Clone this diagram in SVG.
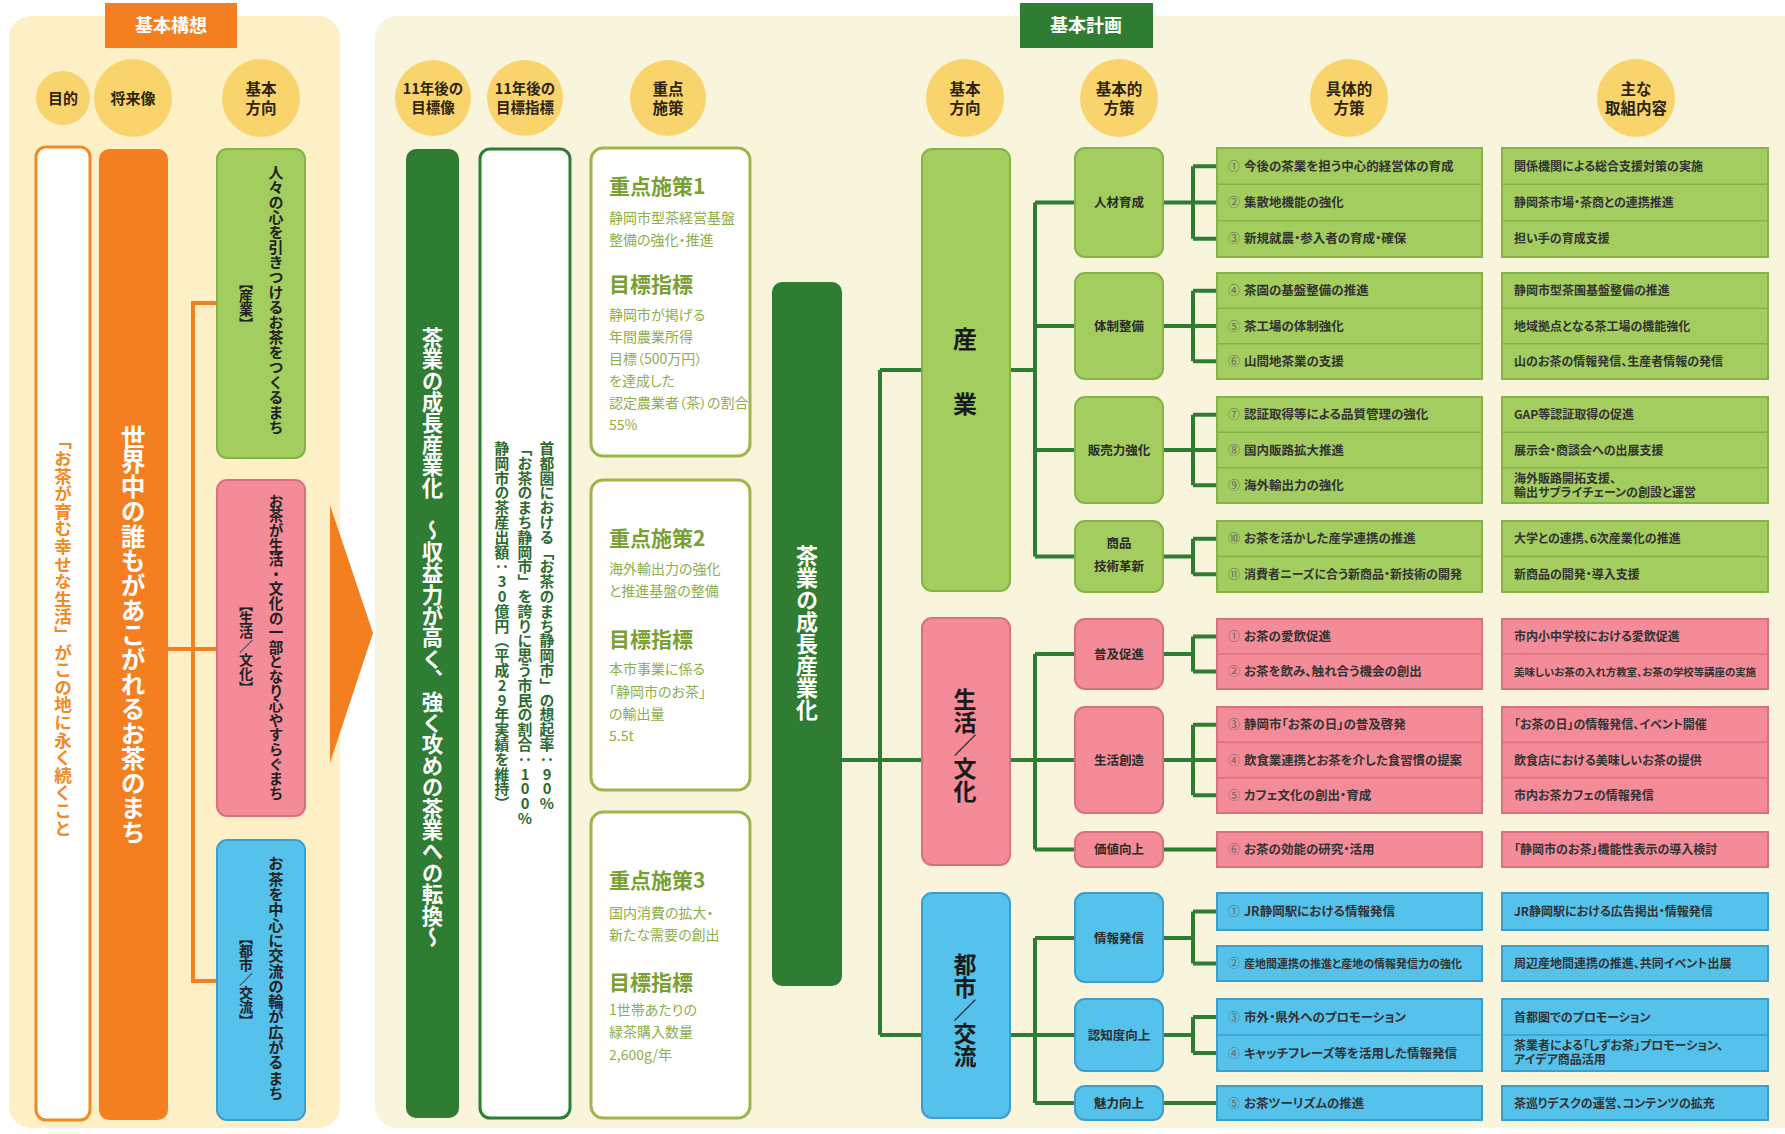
<svg xmlns="http://www.w3.org/2000/svg" width="1785" height="1134" viewBox="0 0 1785 1134">
<style>
text{font-family:"Noto Sans CJK JP","Noto Sans CJK SC",sans-serif;}
.v{writing-mode:vertical-rl;text-orientation:upright;}
.circ{fill:#f9d46c;}
.ct{font-size:15.5px;font-weight:700;fill:#2d2410;text-anchor:middle;}
.tab{font-size:18px;font-weight:700;fill:#ffffff;text-anchor:middle;}
.g{fill:#a3cd5f;stroke:#86b24a;stroke-width:2;}
.p{fill:#f48b98;stroke:#d8707f;stroke-width:2;}
.b{fill:#55c2ec;stroke:#3c9ecb;stroke-width:2;}
.sep-g{stroke:#86b24a;stroke-width:1.5;}
.sep-p{stroke:#d8707f;stroke-width:1.5;}
.sep-b{stroke:#3c9ecb;stroke-width:1.5;}
.lt{font-size:15px;font-weight:700;fill:#222;}
.lb{font-size:14px;font-weight:700;fill:#222;font-feature-settings:"vpal";}
.kt{font-size:21px;font-weight:700;fill:#79a033;}
.kb{font-size:14px;fill:#8fae48;font-feature-settings:"palt";}
.st{font-size:12.5px;font-weight:700;fill:#2b2b2b;text-anchor:middle;}
.it{font-size:12.5px;font-weight:700;fill:#333;font-feature-settings:"palt";}
.it2{font-size:12px;font-weight:700;fill:#333;font-feature-settings:"palt";}
.num{font-size:12px;fill:#666;}
.conn{fill:none;stroke:#2e7d32;stroke-width:4;}
</style>
<rect x="0" y="0" width="1785" height="1134" fill="#ffffff"/>

<!-- Panels -->
<rect x="9" y="16" width="331" height="1112" rx="22" fill="#fdf0c6"/>
<rect x="375" y="16" width="1440" height="1112" rx="22" fill="#f8f5dc"/>
<polygon points="330,505 373,633 330,763" fill="#f47f20"/>

<!-- Tabs -->
<g id="tab-kihonkoso">
<rect x="105" y="3" width="132" height="45" fill="#f47f20"/>
<text class="tab" x="171" y="32">基本構想</text>
</g>
<g id="tab-kihonkeikaku">
<rect x="1020" y="3" width="133" height="45" fill="#2e7d32"/>
<text class="tab" x="1086" y="32">基本計画</text>
</g>

<!-- Header circles -->
<g id="h-mokuteki"><circle class="circ" cx="63" cy="98" r="27"/><text class="ct" x="63" y="104" style="font-size:15px">目的</text></g>
<g id="h-shoraizo"><circle class="circ" cx="133" cy="98" r="39"/><text class="ct" x="133" y="104" style="font-size:15px">将来像</text></g>
<g id="h-hoko1"><circle class="circ" cx="261" cy="98" r="39"/><text class="ct" x="261" y="95">基本</text><text class="ct" x="261" y="114">方向</text></g>
<g id="h-mokuhyozo"><circle class="circ" cx="433" cy="98" r="38"/><text class="ct" x="433" y="94" style="font-size:14.5px">11年後の</text><text class="ct" x="433" y="113" style="font-size:14.5px">目標像</text></g>
<g id="h-mokuhyoshihyo"><circle class="circ" cx="525" cy="98" r="38"/><text class="ct" x="525" y="94" style="font-size:14.5px">11年後の</text><text class="ct" x="525" y="113" style="font-size:14.5px">目標指標</text></g>
<g id="h-juten"><circle class="circ" cx="668" cy="98" r="38"/><text class="ct" x="668" y="95">重点</text><text class="ct" x="668" y="114">施策</text></g>
<g id="h-hoko2"><circle class="circ" cx="965" cy="98" r="39"/><text class="ct" x="965" y="95">基本</text><text class="ct" x="965" y="114">方向</text></g>
<g id="h-hosaku"><circle class="circ" cx="1119" cy="98" r="39"/><text class="ct" x="1119" y="95">基本的</text><text class="ct" x="1119" y="114">方策</text></g>
<g id="h-gutai"><circle class="circ" cx="1349" cy="98" r="39"/><text class="ct" x="1349" y="95">具体的</text><text class="ct" x="1349" y="114">方策</text></g>
<g id="h-torikumi"><circle class="circ" cx="1636" cy="98" r="39"/><text class="ct" x="1636" y="95">主な</text><text class="ct" x="1636" y="114">取組内容</text></g>

<!-- Connectors -->
<g id="connectors">
<path d="M217 303H193V981H217M168 649H217" fill="none" stroke="#f47f20" stroke-width="4"/>
<path class="conn" d="M842 760H922M880 370V1035M880 370H922M880 1035H922"/>
<path class="conn" d="M1010 370H1035M1035 202.5V556.5M1035 202.5H1075M1035 326H1075M1035 450H1075M1035 556.5H1075"/>
<path class="conn" d="M1010 760H1075M1035 654V849.5M1035 654H1075M1035 849.5H1075"/>
<path class="conn" d="M1010 1035H1075M1035 938V1103M1035 938H1075M1035 1103H1075"/>
<path class="conn" d="M1163 202.5H1217M1193 166.2V238.8M1193 166.2H1217M1193 238.8H1217"/>
<path class="conn" d="M1163 326H1217M1193 290.7V361.3M1193 290.7H1217M1193 361.3H1217"/>
<path class="conn" d="M1163 450H1217M1193 414.7V485.3M1193 414.7H1217M1193 485.3H1217"/>
<path class="conn" d="M1163 556.5H1193M1193 538.8V574.2M1193 538.8H1217M1193 574.2H1217"/>
<path class="conn" d="M1163 654H1193M1193 636.5V671.5M1193 636.5H1217M1193 671.5H1217"/>
<path class="conn" d="M1163 760H1217M1193 724.7V795.3M1193 724.7H1217M1193 795.3H1217"/>
<path class="conn" d="M1163 849.5H1217"/>
<path class="conn" d="M1163 938H1193M1193 911.5V963.5M1193 911.5H1217M1193 963.5H1217"/>
<path class="conn" d="M1163 1035H1193M1193 1017V1053M1193 1017H1217M1193 1053H1217"/>
<path class="conn" d="M1163 1103H1217"/>
</g>

<!-- Left column -->
<g id="n-purpose">
<rect x="36" y="147" width="54" height="973" rx="10" fill="#ffffff" stroke="#f08a24" stroke-width="3"/>
<text class="v" x="63" y="432" style="font-size:17.6px;font-weight:700;fill:#f08a24">「お茶が育む幸せな生活」がこの地に永く続くこと</text>
</g>
<g id="n-vision">
<rect x="99" y="149" width="69" height="971" rx="10" fill="#f47f20"/>
<text class="v" x="133" y="425" style="font-size:24.7px;font-weight:700;fill:#ffffff">世界中の誰もがあこがれるお茶のまち</text>
</g>
<g id="n-dir-sangyo">
<rect class="g" x="217" y="149" width="88" height="309" rx="10"/>
<text class="v lt" x="276" y="165">人々の心を引きつけるお茶をつくるまち</text>
<text class="v lb" x="246" y="282">【産業】</text>
</g>
<g id="n-dir-seikatsu">
<rect class="p" x="217" y="480" width="88" height="336" rx="10"/>
<text class="v lt" x="276" y="494" style="font-size:14.6px">お茶が生活・文化の一部となり心やすらぐまち</text>
<text class="v lb" x="246" y="604">【生活／文化】</text>
</g>
<g id="n-dir-toshi">
<rect class="b" x="217" y="840" width="88" height="280" rx="10"/>
<text class="v lt" x="276" y="856" style="font-size:15.3px">お茶を中心に交流の輪が広がるまち</text>
<text class="v lb" x="246" y="937">【都市／交流】</text>
</g>

<!-- Goal image -->
<g id="n-goal-image">
<rect x="406" y="149" width="53" height="969" rx="10" fill="#2e7d32"/>
<text class="v" x="432.5" y="327" style="font-size:21.4px;font-weight:700;fill:#ffffff">茶業の成長産業化　～収益力が高く、強く攻めの茶業への転換～</text>
</g>
<g id="n-goal-index">
<rect x="480" y="149" width="90" height="969" rx="10" fill="#ffffff" stroke="#2e7d32" stroke-width="3"/>
<text class="v" x="547" y="441" style="font-size:14.8px;font-weight:700;fill:#2e6b30">首都圏における「お茶のまち静岡市」の想起率：90%</text>
<text class="v" x="525" y="441" style="font-size:14.8px;font-weight:700;fill:#2e6b30">「お茶のまち静岡市」を誇りに思う市民の割合：100%</text>
<text class="v" x="502" y="441" style="font-size:14.8px;font-weight:700;fill:#2e6b30">静岡市の茶産出額：30億円（平成29年実績を維持）</text>
</g>

<!-- Key measures -->
<g id="n-juten1">
<rect x="591" y="148" width="159" height="308" rx="12" fill="#ffffff" stroke="#9cb64a" stroke-width="3"/>
<text class="kt" x="609" y="194">重点施策1</text>
<text class="kb" x="609" y="223">静岡市型茶経営基盤</text>
<text class="kb" x="609" y="245">整備の強化・推進</text>
<text class="kt" x="609" y="292">目標指標</text>
<text class="kb" x="609" y="320">静岡市が掲げる</text>
<text class="kb" x="609" y="342">年間農業所得</text>
<text class="kb" x="609" y="364">目標（500万円）</text>
<text class="kb" x="609" y="386">を達成した</text>
<text class="kb" x="609" y="408">認定農業者（茶）の割合</text>
<text class="kb" x="609" y="430">55%</text>
</g>
<g id="n-juten2">
<rect x="591" y="480" width="159" height="310" rx="12" fill="#ffffff" stroke="#9cb64a" stroke-width="3"/>
<text class="kt" x="609" y="546">重点施策2</text>
<text class="kb" x="609" y="574">海外輸出力の強化</text>
<text class="kb" x="609" y="596">と推進基盤の整備</text>
<text class="kt" x="609" y="647">目標指標</text>
<text class="kb" x="609" y="674">本市事業に係る</text>
<text class="kb" x="609" y="697">「静岡市のお茶」</text>
<text class="kb" x="609" y="719">の輸出量</text>
<text class="kb" x="609" y="741">5.5t</text>
</g>
<g id="n-juten3">
<rect x="591" y="812" width="159" height="306" rx="12" fill="#ffffff" stroke="#9cb64a" stroke-width="3"/>
<text class="kt" x="609" y="888">重点施策3</text>
<text class="kb" x="609" y="918">国内消費の拡大・</text>
<text class="kb" x="609" y="940">新たな需要の創出</text>
<text class="kt" x="609" y="990">目標指標</text>
<text class="kb" x="609" y="1015">1世帯あたりの</text>
<text class="kb" x="609" y="1037">緑茶購入数量</text>
<text class="kb" x="609" y="1060">2,600g/年</text>
</g>

<g id="n-growth">
<rect x="772" y="282" width="70" height="704" rx="10" fill="#2e7d32"/>
<text class="v" x="807" y="545" style="font-size:22px;font-weight:700;fill:#ffffff">茶業の成長産業化</text>
</g>

<!-- Basic directions -->
<g id="n-sangyo">
<rect class="g" x="922" y="149" width="88" height="442" rx="10"/>
<text x="965" y="348" style="font-size:24px;font-weight:700;fill:#1a1a1a;text-anchor:middle">産</text>
<text x="965" y="413" style="font-size:24px;font-weight:700;fill:#1a1a1a;text-anchor:middle">業</text>
</g>
<g id="n-seikatsu">
<rect class="p" x="922" y="618" width="88" height="247" rx="10"/>
<text class="v" x="965" y="688" style="font-size:23px;font-weight:700;fill:#1a1a1a">生活／文化</text>
</g>
<g id="n-toshi">
<rect class="b" x="922" y="893" width="88" height="225" rx="10"/>
<text class="v" x="965" y="953" style="font-size:23px;font-weight:700;fill:#1a1a1a">都市／交流</text>
</g>

<!-- Basic measures -->
<g id="s-jinzai"><rect class="g" x="1075" y="148" width="88" height="109" rx="10"/><text class="st" x="1119" y="207">人材育成</text></g>
<g id="s-taisei"><rect class="g" x="1075" y="273" width="88" height="106" rx="10"/><text class="st" x="1119" y="330.5">体制整備</text></g>
<g id="s-hanbai"><rect class="g" x="1075" y="397" width="88" height="106" rx="10"/><text class="st" x="1119" y="454.5">販売力強化</text></g>
<g id="s-shohin"><rect class="g" x="1075" y="521" width="88" height="71" rx="10"/><text class="st" x="1119" y="547.5">商品</text><text class="st" x="1119" y="570.5">技術革新</text></g>
<g id="s-fukyu"><rect class="p" x="1075" y="619" width="88" height="70" rx="10"/><text class="st" x="1119" y="658.5">普及促進</text></g>
<g id="s-sozo"><rect class="p" x="1075" y="707" width="88" height="106" rx="10"/><text class="st" x="1119" y="764.5">生活創造</text></g>
<g id="s-kachi"><rect class="p" x="1075" y="832" width="88" height="35" rx="10"/><text class="st" x="1119" y="854">価値向上</text></g>
<g id="s-joho"><rect class="b" x="1075" y="893" width="88" height="89" rx="10"/><text class="st" x="1119" y="942.5">情報発信</text></g>
<g id="s-ninchi"><rect class="b" x="1075" y="999" width="88" height="72" rx="10"/><text class="st" x="1119" y="1039.5">認知度向上</text></g>
<g id="s-miryoku"><rect class="b" x="1075" y="1086" width="88" height="34" rx="10"/><text class="st" x="1119" y="1107.5">魅力向上</text></g>

<!-- Concrete measures (col1) and main activities (col2) -->
<g id="i-g1">
<rect class="g" x="1217" y="148" width="265" height="109"/><line class="sep-g" x1="1217" y1="184.3" x2="1482" y2="184.3"/><line class="sep-g" x1="1217" y1="220.7" x2="1482" y2="220.7"/>
<text class="num" x="1228" y="170.7">①</text><text class="it" x="1244" y="170.7">今後の茶業を担う中心的経営体の育成</text>
<text class="num" x="1228" y="207">②</text><text class="it" x="1244" y="207">集散地機能の強化</text>
<text class="num" x="1228" y="243.3">③</text><text class="it" x="1244" y="243.3">新規就農・参入者の育成・確保</text>
<rect class="g" x="1502" y="148" width="266" height="109"/><line class="sep-g" x1="1502" y1="184.3" x2="1768" y2="184.3"/><line class="sep-g" x1="1502" y1="220.7" x2="1768" y2="220.7"/>
<text class="it2" x="1514" y="170.7">関係機関による総合支援対策の実施</text>
<text class="it2" x="1514" y="207">静岡茶市場・茶商との連携推進</text>
<text class="it2" x="1514" y="243.3">担い手の育成支援</text>
</g>
<g id="i-g2">
<rect class="g" x="1217" y="273" width="265" height="106"/><line class="sep-g" x1="1217" y1="308.3" x2="1482" y2="308.3"/><line class="sep-g" x1="1217" y1="343.7" x2="1482" y2="343.7"/>
<text class="num" x="1228" y="295.2">④</text><text class="it" x="1244" y="295.2">茶園の基盤整備の推進</text>
<text class="num" x="1228" y="330.5">⑤</text><text class="it" x="1244" y="330.5">茶工場の体制強化</text>
<text class="num" x="1228" y="365.8">⑥</text><text class="it" x="1244" y="365.8">山間地茶業の支援</text>
<rect class="g" x="1502" y="273" width="266" height="106"/><line class="sep-g" x1="1502" y1="308.3" x2="1768" y2="308.3"/><line class="sep-g" x1="1502" y1="343.7" x2="1768" y2="343.7"/>
<text class="it2" x="1514" y="295.2">静岡市型茶園基盤整備の推進</text>
<text class="it2" x="1514" y="330.5">地域拠点となる茶工場の機能強化</text>
<text class="it2" x="1514" y="365.8">山のお茶の情報発信、生産者情報の発信</text>
</g>
<g id="i-g3">
<rect class="g" x="1217" y="397" width="265" height="106"/><line class="sep-g" x1="1217" y1="432.3" x2="1482" y2="432.3"/><line class="sep-g" x1="1217" y1="467.7" x2="1482" y2="467.7"/>
<text class="num" x="1228" y="419.2">⑦</text><text class="it" x="1244" y="419.2">認証取得等による品質管理の強化</text>
<text class="num" x="1228" y="454.5">⑧</text><text class="it" x="1244" y="454.5">国内販路拡大推進</text>
<text class="num" x="1228" y="489.8">⑨</text><text class="it" x="1244" y="489.8">海外輸出力の強化</text>
<rect class="g" x="1502" y="397" width="266" height="106"/><line class="sep-g" x1="1502" y1="432.3" x2="1768" y2="432.3"/><line class="sep-g" x1="1502" y1="467.7" x2="1768" y2="467.7"/>
<text class="it2" x="1514" y="419.2">GAP等認証取得の促進</text>
<text class="it2" x="1514" y="454.5">展示会・商談会への出展支援</text>
<text class="it2" x="1514" y="483">海外販路開拓支援、</text>
<text class="it2" x="1514" y="497">輸出サプライチェーンの創設と運営</text>
</g>
<g id="i-g4">
<rect class="g" x="1217" y="521" width="265" height="71"/><line class="sep-g" x1="1217" y1="556.5" x2="1482" y2="556.5"/>
<text class="num" x="1228" y="543.2">⑩</text><text class="it" x="1244" y="543.2">お茶を活かした産学連携の推進</text>
<text class="num" x="1228" y="578.7">⑪</text><text class="it" x="1244" y="578.7" style="font-size:12px" textLength="218" lengthAdjust="spacingAndGlyphs">消費者ニーズに合う新商品・新技術の開発</text>
<rect class="g" x="1502" y="521" width="266" height="71"/><line class="sep-g" x1="1502" y1="556.5" x2="1768" y2="556.5"/>
<text class="it2" x="1514" y="543.2">大学との連携、6次産業化の推進</text>
<text class="it2" x="1514" y="578.7">新商品の開発・導入支援</text>
</g>
<g id="i-p1">
<rect class="p" x="1217" y="619" width="265" height="70"/><line class="sep-p" x1="1217" y1="654" x2="1482" y2="654"/>
<text class="num" x="1228" y="641">①</text><text class="it" x="1244" y="641">お茶の愛飲促進</text>
<text class="num" x="1228" y="676">②</text><text class="it" x="1244" y="676">お茶を飲み、触れ合う機会の創出</text>
<rect class="p" x="1502" y="619" width="266" height="70"/><line class="sep-p" x1="1502" y1="654" x2="1768" y2="654"/>
<text class="it2" x="1514" y="641">市内小中学校における愛飲促進</text>
<text class="it2" x="1514" y="676" style="font-size:10.5px" textLength="242" lengthAdjust="spacingAndGlyphs">美味しいお茶の入れ方教室、お茶の学校等講座の実施</text>
</g>
<g id="i-p2">
<rect class="p" x="1217" y="707" width="265" height="106"/><line class="sep-p" x1="1217" y1="742.3" x2="1482" y2="742.3"/><line class="sep-p" x1="1217" y1="777.7" x2="1482" y2="777.7"/>
<text class="num" x="1228" y="729.2">③</text><text class="it" x="1244" y="729.2">静岡市「お茶の日」の普及啓発</text>
<text class="num" x="1228" y="764.5">④</text><text class="it" x="1244" y="764.5" style="font-size:12px" textLength="218" lengthAdjust="spacingAndGlyphs">飲食業連携とお茶を介した食習慣の提案</text>
<text class="num" x="1228" y="799.8">⑤</text><text class="it" x="1244" y="799.8">カフェ文化の創出・育成</text>
<rect class="p" x="1502" y="707" width="266" height="106"/><line class="sep-p" x1="1502" y1="742.3" x2="1768" y2="742.3"/><line class="sep-p" x1="1502" y1="777.7" x2="1768" y2="777.7"/>
<text class="it2" x="1514" y="729.2">「お茶の日」の情報発信、イベント開催</text>
<text class="it2" x="1514" y="764.5">飲食店における美味しいお茶の提供</text>
<text class="it2" x="1514" y="799.8">市内お茶カフェの情報発信</text>
</g>
<g id="i-p3">
<rect class="p" x="1217" y="832" width="265" height="35"/>
<text class="num" x="1228" y="854">⑥</text><text class="it" x="1244" y="854">お茶の効能の研究・活用</text>
<rect class="p" x="1502" y="832" width="266" height="35"/>
<text class="it2" x="1514" y="854">「静岡市のお茶」機能性表示の導入検討</text>
</g>
<g id="i-b1">
<rect class="b" x="1217" y="893" width="265" height="37"/>
<text class="num" x="1228" y="916">①</text><text class="it" x="1244" y="916">JR静岡駅における情報発信</text>
<rect class="b" x="1217" y="946" width="265" height="35"/>
<text class="num" x="1228" y="968">②</text><text class="it" x="1244" y="968" style="font-size:11.5px" textLength="218" lengthAdjust="spacingAndGlyphs">産地間連携の推進と産地の情報発信力の強化</text>
<rect class="b" x="1502" y="893" width="266" height="37"/>
<text class="it2" x="1514" y="916">JR静岡駅における広告掲出・情報発信</text>
<rect class="b" x="1502" y="946" width="266" height="35"/>
<text class="it2" x="1514" y="968">周辺産地間連携の推進、共同イベント出展</text>
</g>
<g id="i-b2">
<rect class="b" x="1217" y="999" width="265" height="72"/><line class="sep-b" x1="1217" y1="1035" x2="1482" y2="1035"/>
<text class="num" x="1228" y="1021.5">③</text><text class="it" x="1244" y="1021.5">市外・県外へのプロモーション</text>
<text class="num" x="1228" y="1057.5">④</text><text class="it" x="1244" y="1057.5">キャッチフレーズ等を活用した情報発信</text>
<rect class="b" x="1502" y="999" width="266" height="72"/><line class="sep-b" x1="1502" y1="1035" x2="1768" y2="1035"/>
<text class="it2" x="1514" y="1021.5">首都圏でのプロモーション</text>
<text class="it2" x="1514" y="1050">茶業者による「しずお茶」プロモーション、</text>
<text class="it2" x="1514" y="1064">アイデア商品活用</text>
</g>
<g id="i-b3">
<rect class="b" x="1217" y="1086" width="265" height="34"/>
<text class="num" x="1228" y="1107.5">⑤</text><text class="it" x="1244" y="1107.5">お茶ツーリズムの推進</text>
<rect class="b" x="1502" y="1086" width="266" height="34"/>
<text class="it2" x="1514" y="1107.5">茶巡りデスクの運営、コンテンツの拡充</text>
</g>
</svg>
